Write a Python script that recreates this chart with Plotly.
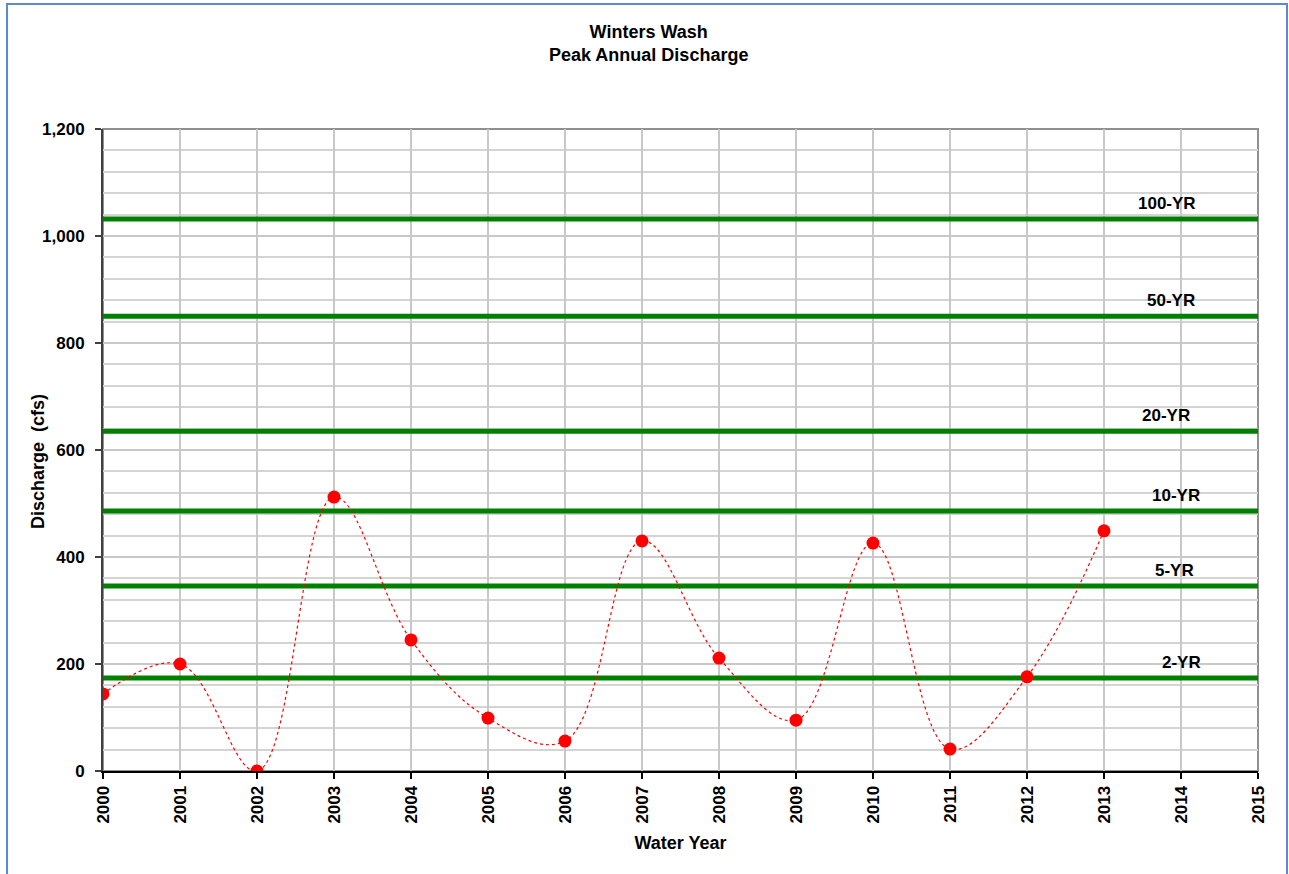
import plotly.graph_objects as go

years = [2000, 2001, 2002, 2003, 2004, 2005, 2006, 2007, 2008, 2009, 2010, 2011, 2012, 2013]
discharge = [144, 200, 0, 512, 245, 99, 56, 430, 211, 95, 426, 41, 176, 449]

rp_labels = ["100-YR", "50-YR", "20-YR", "10-YR", "5-YR", "2-YR"]
rp_values = [1032, 850, 635, 486, 346, 174]
rp_label_x = [2013.82, 2013.87, 2013.81, 2013.94, 2013.91, 2014.0]

x_range = [2000, 2015]
x_ticks = list(range(2000, 2016))

FONT = "Liberation Sans, Arial, sans-serif"

fig = go.Figure()

for lab, val in zip(rp_labels, rp_values):
    fig.add_trace(go.Scatter(x=x_range, y=[val, val], mode="lines",
                             line=dict(color="#008000", width=5),
                             hoverinfo="skip", showlegend=False))

fig.add_trace(go.Scatter(
    x=years, y=discharge, mode="lines+markers",
    line=dict(color="#ff0000", width=1.2, dash="dot", shape="spline", smoothing=1.1),
    marker=dict(color="#ff0000", size=13),
    showlegend=False))

for lab, val, lx in zip(rp_labels, rp_values, rp_label_x):
    fig.add_annotation(x=lx, y=val, text="<b>%s</b>" % lab, showarrow=False,
                       yanchor="bottom", yshift=4,
                       font=dict(family=FONT, size=17, color="#000000"))

W, H = 1289, 874
L, R, T, B = 103, 31, 129, 103
pw, ph = W - L - R, H - T - B
def px(x):
    return (x - L) / pw
def py(y):
    return (H - B - y) / ph

# chart title as annotation for exact placement
fig.add_annotation(xref="paper", yref="paper", x=px(648), y=py(43),
                   text="<b>Winters Wash<br>Peak Annual Discharge</b>", showarrow=False,
                   xanchor="center", yanchor="middle",
                   font=dict(family=FONT, size=18, color="#000000"))

# y-axis title as annotation for exact placement
fig.add_annotation(xref="paper", yref="paper", x=px(38), y=py(462),
                   text="<b>Discharge  (cfs)</b>", textangle=-90, showarrow=False,
                   xanchor="center", yanchor="middle",
                   font=dict(family=FONT, size=18, color="#000000"))

# outer blue frame
fig.add_shape(type="rect", xref="paper", yref="paper",
              x0=px(7), x1=px(1287), y0=py(885), y1=py(4),
              line=dict(color="#5b8bd0", width=2), layer="below")
# plot border (top/right)
fig.add_shape(type="rect", xref="paper", yref="paper", x0=0, x1=1, y0=0, y1=1,
              line=dict(color="#909090", width=2), layer="below")

fig.update_layout(
    width=W, height=H,
    margin=dict(l=L, r=R, t=T, b=B),
    paper_bgcolor="white", plot_bgcolor="white",
    font=dict(family=FONT, color="#000000"),
    xaxis=dict(range=x_range, tickmode="array", tickvals=x_ticks,
               ticktext=["<b>%d</b>" % t for t in x_ticks], tickangle=-90,
               showgrid=True, gridcolor="#c8c8c8", gridwidth=2,
               showline=True, linecolor="#000000", linewidth=2,
               ticks="outside", ticklen=6, tickcolor="#000000", tickwidth=2,
               tickfont=dict(family=FONT, size=17, color="#000000"),
               title=dict(text="<b>Water Year</b>", standoff=14,
                          font=dict(family=FONT, size=18, color="#000000")),
               zeroline=False, fixedrange=True),
    yaxis=dict(range=[0, 1200], dtick=200, tick0=0, tickformat=",d",
               showgrid=True, gridcolor="#c8c8c8", gridwidth=2,
               minor=dict(dtick=40, showgrid=True, gridcolor="#d4d4d4", gridwidth=2),
               showline=True, linecolor="#404040", linewidth=2,
               ticks="outside", ticklen=6, tickcolor="#404040", tickwidth=2,
               ticklabelstandoff=7,
               tickfont=dict(family=FONT, size=17, color="#000000", weight="bold"),
               zeroline=False, fixedrange=True),
)

fig.write_html("out.html", post_script="document.body.style.margin='0';",
               config={"displayModeBar": False})
